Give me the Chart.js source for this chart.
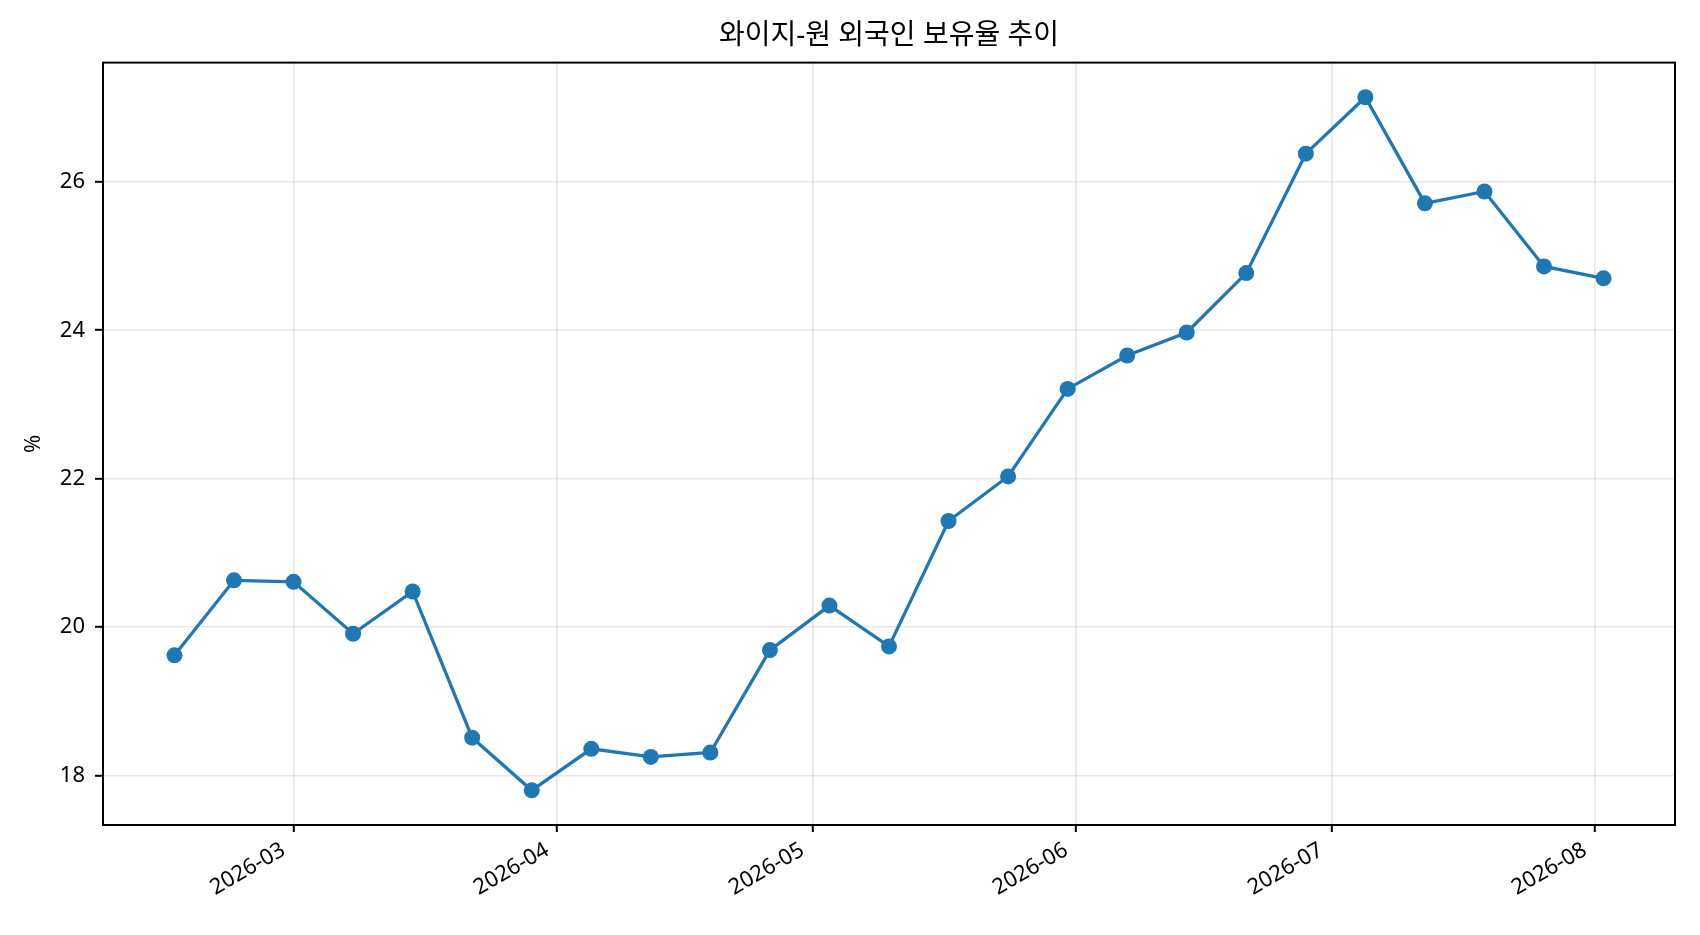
<!DOCTYPE html>
<html>
<head>
<meta charset="utf-8">
<script src="https://cdn.jsdelivr.net/npm/chart.js@4/dist/chart.umd.min.js"></script>
<style>
  html, body { margin: 0; padding: 0; background: #fff; }
  #wrap { width: 1700px; height: 935px; }
</style>
</head>
<body>
<div id="wrap"><canvas id="myChart"></canvas></div>
<script>
// weekly observations
const dates = ['2026-02-15', '2026-02-22', '2026-03-01', '2026-03-08', '2026-03-15',
  '2026-03-22', '2026-03-29', '2026-04-05', '2026-04-12', '2026-04-19',
  '2026-04-26', '2026-05-03', '2026-05-10', '2026-05-17', '2026-05-24',
  '2026-05-31', '2026-06-07', '2026-06-14', '2026-06-21', '2026-06-28',
  '2026-07-05', '2026-07-12', '2026-07-19', '2026-07-26', '2026-08-02'];
const foreignRatio = [19.62, 20.63, 20.61, 19.91, 20.48,
  18.51, 17.80, 18.36, 18.25, 18.31,
  19.69, 20.29, 19.74, 21.43, 22.03,
  23.21, 23.66, 23.97, 24.77, 26.38,
  27.14, 25.71, 25.87, 24.86, 24.70];

const tickDates = ['2026-03-01', '2026-04-01', '2026-05-01', '2026-06-01', '2026-07-01', '2026-08-01'];
const tickLabels = ['2026-03', '2026-04', '2026-05', '2026-06', '2026-07', '2026-08'];
const yTicks = [18, 20, 22, 24, 26];

const titleText = '와이지-원 외국인 보유율 추이';
const yTitle = '%';

// days since epoch, so a linear axis works without a date adapter
const toDay = (s) => Date.parse(s + 'T00:00:00Z') / 86400000;

let xs = dates.map(toDay);
let tickDays = tickDates.map(toDay);
let points = [];
for (let i = 0; i < xs.length; i++) {
    points.push({x: xs[i], y: foreignRatio[i]});
}

// matplotlib style 5% margins
const xMin = Math.min(...xs), xMax = Math.max(...xs);
const yMin = Math.min(...foreignRatio), yMax = Math.max(...foreignRatio);
const xPad = (xMax - xMin) * 0.05, yPad = (yMax - yMin) * 0.05;

Chart.defaults.font.family = '"Noto Sans", "Noto Sans CJK KR", sans-serif';
Chart.defaults.color = '#000';

// box around the plot area
const frame = {
    id: 'frame',
    afterDraw(chart) {
        const {ctx, chartArea: a} = chart;
        ctx.save();
        ctx.strokeStyle = '#000';
        ctx.lineWidth = 2;
        ctx.strokeRect(a.left, a.top, a.right - a.left, a.bottom - a.top);
        ctx.restore();
    }
};

const gridColor = 'rgba(176,176,176,0.3)';

new Chart('myChart', {
    type: 'line',
    data: {
        datasets: [{
            data: points,
            borderColor: '#1f77b4',
            backgroundColor: '#1f77b4',
            borderWidth: 3.3,
            pointRadius: 8,
            pointHoverRadius: 8,
            pointBorderWidth: 0,
            pointBackgroundColor: '#1f77b4',
            tension: 0,
            fill: false
        }]
    },
    options: {
        responsive: true,
        maintainAspectRatio: false,
        animation: false,
        devicePixelRatio: 1,
        layout: { padding: { top: 0, right: 25, bottom: 0, left: 0 } },
        plugins: {
            legend: { display: false },
            tooltip: { enabled: false },
            title: {
                display: true,
                fullSize: false,
                text: titleText,
                color: '#000',
                font: { size: 28, weight: 'normal' },
                padding: { top: 19, bottom: 10 }
            }
        },
        scales: {
            x: {
                type: 'linear',
                min: xMin - xPad,
                max: xMax + xPad,
                afterBuildTicks: (scale) => {
                    scale.ticks = tickDays.map(v => ({value: v}));
                },
                afterFit: (scale) => { scale.height = 110; },
                ticks: {
                    autoSkip: false,
                    minRotation: 30,
                    maxRotation: 30,
                    padding: 5,
                    labelOffset: -10,
                    font: { size: 22 },
                    callback: (v) => {
                        const i = tickDays.indexOf(v);
                        return i >= 0 ? tickLabels[i] : '';
                    }
                },
                grid: { color: gridColor, lineWidth: 1.6, tickLength: 7, tickColor: '#000', tickWidth: 2 },
                border: { color: '#000', width: 2 }
            },
            y: {
                min: yMin - yPad,
                max: yMax + yPad,
                afterBuildTicks: (scale) => {
                    scale.ticks = yTicks.map(v => ({value: v}));
                },
                afterFit: (scale) => { scale.width = 103; },
                ticks: {
                    padding: 10,
                    font: { size: 22 }
                },
                title: {
                    display: true,
                    text: yTitle,
                    font: { size: 22 },
                    padding: { top: 21, bottom: 0 }
                },
                grid: { color: gridColor, lineWidth: 1.6, tickLength: 8, tickColor: '#000', tickWidth: 2 },
                border: { color: '#000', width: 2 }
            }
        }
    },
    plugins: [frame]
});
</script>
</body>
</html>
